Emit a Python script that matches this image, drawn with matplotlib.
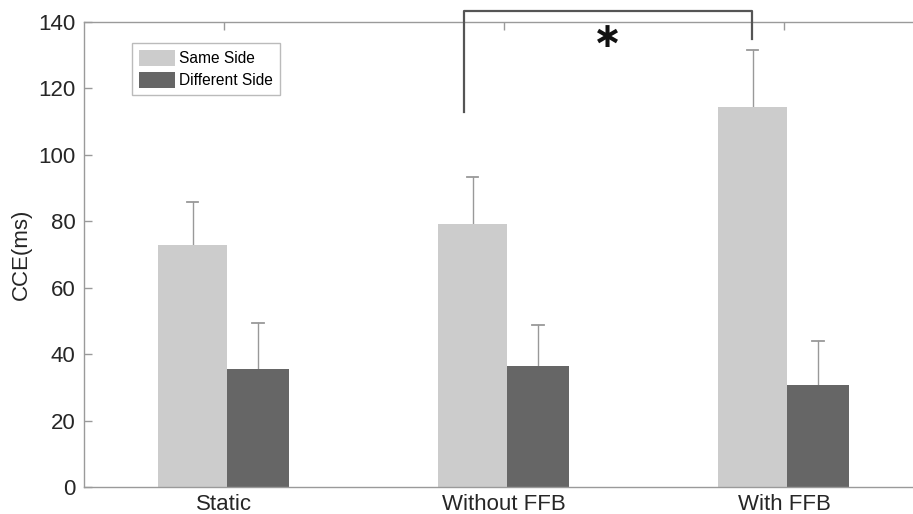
import numpy as np
import matplotlib
matplotlib.use("Agg")
import matplotlib.pyplot as plt

plt.rcParams['font.family'] = ['Liberation Sans', 'DejaVu Sans']

# Datos
categorias = ["Static", "Without FFB", "With FFB"]
same_side = [73, 79.2, 114.5]
same_err = [12.8, 14.2, 17.2]
diff_side = [35.6, 36.5, 30.7]
diff_err = [13.9, 12.3, 13.3]

fig = plt.figure(figsize=(9.13, 5.14), dpi=100)
ax = fig.add_axes([84 / 913, 27 / 514, 840 / 913, 465 / 514])

x = np.arange(1, len(categorias) + 1)
light = "#cccccc"
dark = "#666666"
errc = "#999999"

# barras (claras mais largas, escuras coladas à direita)
ax.bar(x - 0.236, same_side, width=0.247, align='edge', color=light,
       label="Same Side", zorder=2)
ax.bar(x + 0.011, diff_side, width=0.221, align='edge', color=dark,
       label="Different Side", zorder=2)

# barras de erro só para cima (linha + tampa)
def erro_cima(ax, xs, ys, es):
    for xi, yi, ei in zip(xs, ys, es):
        ax.plot([xi, xi], [yi, yi + ei], color=errc, lw=1, zorder=1)
        ax.plot([xi - 0.02, xi + 0.02], [yi + ei, yi + ei], color=errc,
                lw=1.3, zorder=1)

erro_cima(ax, x - 0.1125, same_side, same_err)
erro_cima(ax, x + 0.1215, diff_side, diff_err)

# colchete de significância
bx = [1.857, 1.857, 2.887, 2.887]
by = [113, 143.4, 143.4, 135]
ax.plot(bx, by, color="#555555", lw=1.6, clip_on=False, zorder=3)
ax.text(2.37, 135.4, "\u2217", fontsize=25, ha='center', va='center',
        color="#111111", family='DejaVu Sans', fontweight='bold')

ax.set_xlim(0.5, 3.5)
ax.set_ylim(0, 140)
ax.set_xticks(x)
ax.set_xticklabels(categorias)
ax.set_yticks(np.arange(0, 141, 20))
ax.set_ylabel("CCE(ms)", fontsize=16, color="#262626", labelpad=5)

for s in ax.spines.values():
    s.set_color("#9a9a9a")
    s.set_linewidth(1.0)
ax.tick_params(direction='in', length=6, width=1, color="#9a9a9a",
               labelsize=16, labelcolor="#262626", top=True, right=True, pad=6)
ax.tick_params(axis='x', pad=5)

leg = ax.legend(loc='upper left', bbox_to_anchor=(48 / 840, 1 - 21 / 465),
                fontsize=11.2, frameon=True, fancybox=False, handlelength=2.3,
                handleheight=1.2, borderpad=0.45, labelspacing=0.35,
                handletextpad=0.3, borderaxespad=0)
leg.get_frame().set_edgecolor("#aaaaaa")
leg.get_frame().set_linewidth(1)

fig.savefig("out.png", dpi=100)
